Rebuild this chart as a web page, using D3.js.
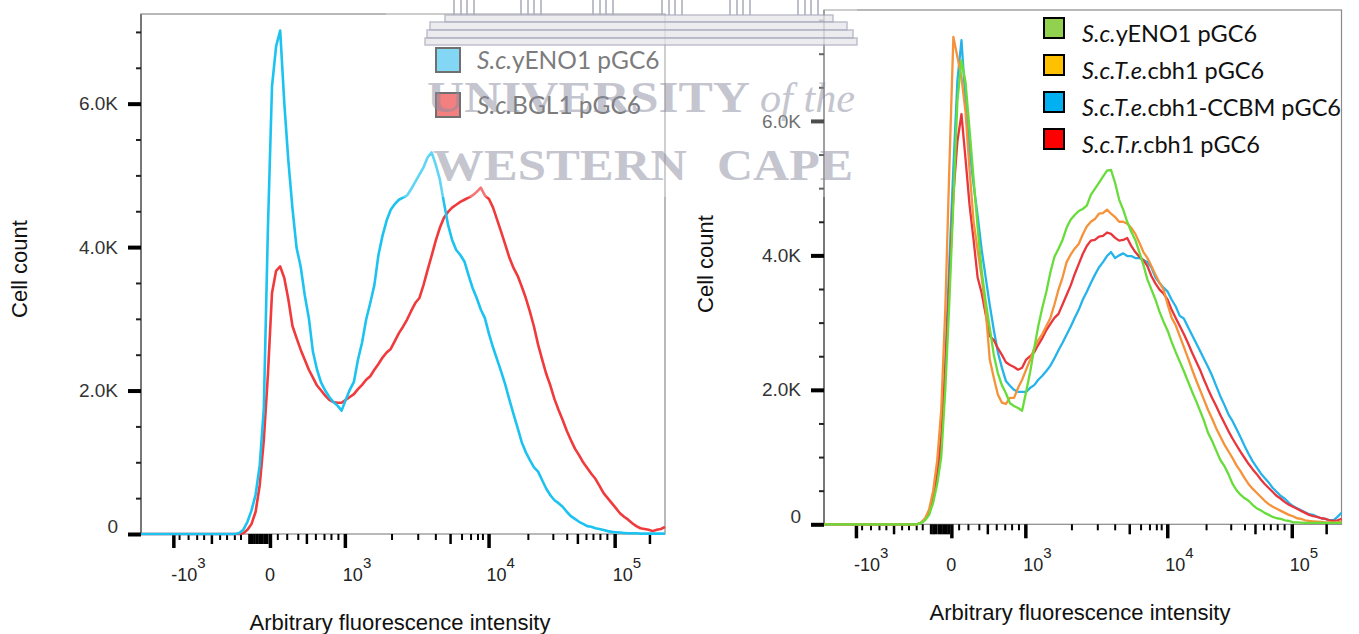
<!DOCTYPE html>
<html>
<head>
<meta charset="utf-8">
<script src="https://cdn.jsdelivr.net/npm/d3@7"></script>
<style>
body { margin: 0; background: #fff; }
svg { display: block; font-family: Arial, "Liberation Sans", sans-serif; }
</style>
</head>
<body>
<svg id="chart" width="1359" height="634"></svg>
<script>
// histogram counts per display channel (0..128)
var leftCyan = [0,0,0,0,0,0,0,0,0,0,0,0,0,0,0,0,0,0,0,0,0,0,0,0,
  15,60,170,330,550,960,1750,4260,6240,6800,7020,6010,5200,4540,3990,3730,3330,3010,2540,2290,2110,2000,1910,1840,1790,1720,
  1870,2010,2120,2430,2670,2990,3220,3470,3890,4160,4370,4520,4600,4660,4690,4720,4810,4910,5010,5110,5250,5320,5150,4940,4620,4310,
  4100,3960,3890,3800,3610,3430,3290,3130,3010,2790,2600,2430,2260,2080,1870,1670,1480,1280,1140,1030,930,870,750,630,540,470,430,380,
  310,250,210,170,140,110,100,80,70,55,40,30,25,20,15,10,10,10,5,5,5,5,5,5,5];
var leftRed = [0,0,0,0,0,0,0,0,0,0,0,0,0,0,0,0,0,0,0,0,0,0,0,0,0,
  10,60,140,310,680,1310,2220,3360,3670,3730,3570,3270,2900,2730,2570,2430,2290,2180,2070,2000,1930,1870,1840,1830,1830,
  1870,1910,1950,2020,2080,2150,2200,2290,2370,2460,2530,2580,2690,2800,2890,2990,3110,3220,3290,3470,3680,3880,4090,4270,4410,4490,
  4550,4590,4630,4660,4690,4720,4770,4830,4720,4670,4550,4380,4210,4030,3850,3710,3600,3450,3290,3100,2890,2640,2430,2230,2070,1880,
  1730,1590,1440,1310,1190,1100,1000,920,840,770,670,570,500,430,360,290,240,200,150,110,80,70,60,40,60,70,100];

var rightGreen = [0,0,0,0,0,0,0,0,0,0,0,0,0,0,0,0,0,0,0,0,0,0,0,0,
  20,60,140,320,600,1000,2000,3300,4800,6300,6900,6580,5870,5140,4420,3770,3310,2920,2520,2250,2070,1950,1800,1760,1730,1690,
  1970,2270,2620,2950,3220,3460,3750,3980,4100,4230,4410,4530,4600,4660,4690,4740,4900,4990,5080,5170,5260,5270,5080,4830,4680,4500,
  4350,4230,4050,3860,3640,3490,3340,3160,3010,2880,2710,2560,2420,2280,2130,1980,1840,1690,1540,1360,1240,1100,960,870,750,610,
  510,440,390,350,290,240,210,170,140,110,90,80,60,50,30,30,25,20,20,20,20,20,20,20,20,20,20];
var rightOrange = [0,0,0,0,0,0,0,0,0,0,0,0,0,0,0,0,0,0,0,0,0,0,0,0,
  25,90,220,500,950,1700,3200,5300,7250,6950,6650,6140,5270,4500,4080,3670,3190,2450,2180,1930,1810,1790,1880,1880,2030,2150,
  2300,2450,2620,2740,2830,2950,3070,3270,3490,3670,3900,4010,4100,4170,4310,4430,4500,4540,4620,4630,4680,4620,4570,4500,4500,4470,
  4410,4320,4190,4050,3960,3840,3710,3590,3490,3270,3070,2960,2800,2640,2480,2310,2150,2000,1850,1700,1570,1430,1310,1190,1090,990,
  880,790,690,600,530,470,410,350,300,260,230,200,170,140,120,90,80,60,50,45,40,35,30,30,25,30,40];
var rightBlue = [0,0,0,0,0,0,0,0,0,0,0,0,0,0,0,0,0,0,0,0,0,0,0,0,
  20,70,160,380,720,1200,2400,3900,5300,6600,7200,6300,5570,5050,4590,4080,3670,3260,2890,2560,2330,2130,2060,2000,1970,1970,
  1970,2030,2070,2150,2210,2280,2360,2470,2590,2700,2820,2940,3070,3190,3340,3460,3590,3710,3820,3900,3990,4050,3960,4000,4030,3990,
  3990,3960,3960,3930,3900,3820,3670,3590,3520,3460,3340,3240,3100,3060,2940,2820,2700,2580,2460,2340,2210,2060,1910,1780,1640,1540,
  1420,1300,1170,1050,940,850,760,690,620,540,480,420,380,320,270,240,210,180,150,140,110,90,80,60,60,110,170];
var rightRed = [0,0,0,0,0,0,0,0,0,0,0,0,0,0,0,0,0,0,0,0,0,0,0,0,
  20,70,170,400,750,1300,2300,3600,4900,5700,6100,5440,4750,4230,3670,3440,3120,2800,2740,2620,2520,2410,2370,2340,2300,2330,
  2450,2500,2560,2670,2770,2890,2980,3070,3130,3270,3410,3550,3720,3870,4020,4140,4220,4230,4280,4290,4340,4320,4260,4220,4230,4260,
  4140,4050,3980,3930,3840,3690,3580,3490,3430,3340,3190,3070,2950,2830,2700,2560,2430,2300,2150,2010,1880,1760,1630,1510,1390,1280,
  1180,1080,990,900,820,750,670,600,540,480,420,380,330,290,260,230,200,170,140,120,110,90,80,60,50,60,80];

// axis ticks, in display channels
var xMajor = [7.9, 31.5, 49.8, 84.9, 115.7];
var xMajorBase = ["-10", "0", "10", "10", "10"];
var xMajorExp = ["3", "", "3", "4", "5"];
var xMedium = [17.2, 40.4, 75.5, 106.6, 124.2];
var xMinor = [9.3, 11.5, 13.6, 15.3, 19.2, 20.9, 22.8, 24.3, 33.3, 35.6, 38.3, 42.6, 44.7, 46.4, 48.1,
  61.2, 67.6, 71.9, 78.3, 80.5, 82.2, 83.4, 94.5, 100.6, 104, 108.7, 110.4, 112.1, 113.8];
var xNearZero = [26.4, 27.0, 27.6, 28.3, 28.9, 29.5, 30.1, 30.7];
var yMajor = [0, 2000, 4000, 6000];
var yMajorLabels = ["0", "2.0K", "4.0K", "6.0K"];

var leftNames = [["S.c.", "yENO1 pGC6"], ["S.c.", "BGL1 pGC6"]];
var rightNames = [["S.c.", "yENO1 pGC6"], ["S.c.T.e.", "cbh1 pGC6"], ["S.c.T.e.", "cbh1-CCBM pGC6"], ["S.c.T.r.", "cbh1 pGC6"]];

var svg = d3.select("#chart");

function drawPanel(p) {
  var x = d3.scaleLinear().domain([0, 128]).range([p.left, p.right]);
  var y = d3.scaleLinear().domain([0, p.yMax]).range([p.bottom, p.top]);
  var g = svg.append("g");

  // 枠
  g.append("rect")
    .attr("x", p.left).attr("y", p.top)
    .attr("width", p.right - p.left).attr("height", p.bottom - p.top)
    .attr("fill", "none").attr("stroke", "#8a8a8a").attr("stroke-width", 1.2);
  g.append("line")
    .attr("x1", p.left).attr("x2", p.left).attr("y1", p.top).attr("y2", p.bottom)
    .attr("stroke", "#777").attr("stroke-width", 2);

  // y軸
  var yMinor = d3.range(500, p.yMax, 500).filter(function(v) { return v % 2000 !== 0; });
  g.append("g")
    .attr("transform", "translate(" + p.left + ",0)")
    .call(d3.axisLeft(y).tickValues(yMinor).tickSize(5).tickFormat(""))
    .call(function(a) { a.select(".domain").remove(); })
    .selectAll("line").attr("stroke", "#222").attr("stroke-width", 2);

  var ya = g.append("g")
    .attr("transform", "translate(" + p.left + ",0)")
    .call(d3.axisLeft(y).tickValues(yMajor).tickSize(13).tickPadding(10)
      .tickFormat(function(d, i) { return yMajorLabels[i]; }));
  ya.select(".domain").remove();
  ya.selectAll("line").attr("stroke", "#000").attr("stroke-width", 4);
  ya.selectAll("text")
    .attr("font-size", 19).attr("font-family", "Arial, 'Liberation Sans', sans-serif")
    .attr("fill", "#333")
    .attr("dy", function(d) { return d === 0 ? "-0.1em" : "0.32em"; });

  // x軸
  function xTicks(vals, len, w) {
    var a = g.append("g")
      .attr("transform", "translate(0," + p.bottom + ")")
      .call(d3.axisBottom(x).tickValues(vals).tickSize(len).tickFormat(""));
    a.select(".domain").remove();
    a.selectAll("line").attr("stroke", "#000").attr("stroke-width", w);
  }
  xTicks(xMinor, 6, 2);
  xTicks(xMedium, 10, 2.5);
  xTicks(xNearZero, 10, 2.8);
  xTicks(xMajor, 14, 3.5);

  var lab = g.append("g").attr("font-size", 18).attr("fill", "#222");
  xMajor.forEach(function(t, i) {
    var tx = lab.append("text")
      .attr("y", p.bottom + 47)
      .attr("x", xMajorExp[i] ? x(t) - 2 : x(t))
      .attr("text-anchor", xMajorExp[i] ? "start" : "middle")
      .text(xMajorBase[i]);
    if (xMajorExp[i]) {
      tx.append("tspan").attr("dy", -13).attr("font-size", 15).text(xMajorExp[i]);
    }
  });

  // 軸タイトル
  g.append("text")
    .attr("x", p.titleX).attr("y", p.bottom + 96)
    .attr("text-anchor", "middle").attr("font-size", 22).attr("fill", "#111")
    .text("Arbitrary fluorescence intensity");
  g.append("text")
    .attr("transform", "translate(" + p.ylabX + "," + p.ylabY + ") rotate(-90)")
    .attr("text-anchor", "middle").attr("font-size", 22).attr("fill", "#111")
    .text("Cell count");

  // 曲線
  var line = d3.line()
    .x(function(d, i) { return x(i); })
    .y(function(d) { return y(d); });
  p.series.forEach(function(s) {
    g.append("path")
      .datum(s.data)
      .attr("d", line)
      .attr("fill", "none")
      .attr("stroke", s.color)
      .attr("stroke-width", p.lineWidth)
      .attr("stroke-linejoin", "round");
  });

  // 凡例
  var lg = g.append("g").attr("font-family", "Lato, 'Open Sans', sans-serif")
    .attr("font-size", p.legend.fontSize).attr("fill", p.legend.textColor);
  p.legend.names.forEach(function(n, i) {
    lg.append("rect")
      .attr("x", p.legend.x).attr("y", p.legend.boxTop + i * p.legend.step)
      .attr("width", p.legend.box).attr("height", p.legend.box)
      .attr("fill", p.legend.colors[i]).attr("stroke", p.legend.border).attr("stroke-width", 2);
    var t = lg.append("text")
      .attr("x", p.legend.textX).attr("y", p.legend.base + i * p.legend.step);
    t.append("tspan").attr("font-style", "italic").text(n[0]);
    t.append("tspan").text(n[1]);
  });
}

drawPanel({
  left: 141, right: 665, top: 14, bottom: 534, yMax: 7250,
  titleX: 400, ylabX: 27, ylabY: 269, lineWidth: 2.6,
  series: [{ data: leftRed, color: "#f03a3c" }, { data: leftCyan, color: "#1cc3f0" }],
  legend: { names: leftNames, colors: ["#4cc6f0", "#f0484a"], border: "#333", textColor: "#444",
    x: 436, boxTop: 48, box: 24, step: 45, textX: 477, base: 69, fontSize: 24.5 }
});

drawPanel({
  left: 824, right: 1341.5, top: 10, bottom: 524.3, yMax: 7650,
  titleX: 1080, ylabX: 713, ylabY: 264, lineWidth: 2.3,
  series: [{ data: rightBlue, color: "#24b3ea" }, { data: rightRed, color: "#e8363c" },
           { data: rightOrange, color: "#f5923a" }, { data: rightGreen, color: "#68dc3a" }],
  legend: { names: rightNames, colors: ["#92d050", "#ffc000", "#00b0f0", "#ff0000"], border: "#000", textColor: "#111",
    x: 1044, boxTop: 18, box: 20, step: 37, textX: 1082, base: 42, fontSize: 23.5 }
});

// 透かし
var wm = svg.append("g");
wm.append("rect").attr("x", 386).attr("y", 0).attr("width", 471).attr("height", 197)
  .attr("fill", "#fff").attr("opacity", 0.3);
var steps = [[445, 15, 388, 7], [430, 22, 417, 8], [427, 30, 426, 8], [425, 38, 432, 7]];
steps.forEach(function(s) {
  wm.append("rect").attr("x", s[0]).attr("y", s[1]).attr("width", s[2]).attr("height", s[3])
    .attr("fill", "#e6e6ec").attr("stroke", "#a9aabb").attr("stroke-width", 1.5).attr("opacity", 0.75);
});
[464, 531, 603, 672, 740, 808].forEach(function(cx) {
  [-10, -3, 3, 10].forEach(function(o) {
    wm.append("rect").attr("x", cx + o - 1).attr("y", 0).attr("width", 2).attr("height", 15)
      .attr("fill", "#a9aabb").attr("opacity", 0.75);
  });
});
var wmText = [
  { t: "UNIVERSITY", x: 427, y: 112, len: 323, style: "normal", size: 44 },
  { t: "of the", x: 760, y: 112, len: 95, style: "italic", size: 42 },
  { t: "WESTERN", x: 433, y: 180, len: 254, style: "normal", size: 44 },
  { t: "CAPE", x: 717, y: 180, len: 136, style: "normal", size: 44 }
];
wmText.forEach(function(w) {
  wm.append("text")
    .attr("x", w.x).attr("y", w.y)
    .attr("textLength", w.len).attr("lengthAdjust", "spacingAndGlyphs")
    .attr("font-family", "'Liberation Serif', 'DejaVu Serif', serif")
    .attr("font-weight", w.style === "italic" ? "normal" : "bold")
    .attr("font-style", w.style)
    .attr("font-size", w.size)
    .attr("fill", "#8a8ca0").attr("opacity", 0.5)
    .text(w.t);
});
</script>
</body>
</html>
